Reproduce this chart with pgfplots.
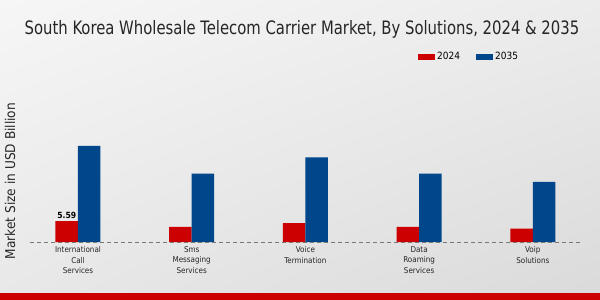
\documentclass[border=0pt]{standalone}
\usepackage{pgfplots}
\pgfplotsset{compat=1.18}
\usetikzlibrary{shadings}
\usepackage{fontspec}
\setmainfont{DejaVu Sans Condensed}
\definecolor{cred}{RGB}{204,0,0}
\definecolor{cblue}{RGB}{0,70,139}
\definecolor{base}{RGB}{120,120,120}
\definecolor{bgul}{RGB}{246,246,246}
\definecolor{bgur}{RGB}{236,236,236}
\definecolor{bgll}{RGB}{232,232,232}
\definecolor{bglr}{RGB}{218,218,218}
\begin{document}
\begin{tikzpicture}
\useasboundingbox (0,0) rectangle (600pt,300pt);
\shade[upper left=bgul, upper right=bgur, lower left=bgll, lower right=bglr]
  (0,0) rectangle (600pt,300pt);
\fill[cred] (0,0) rectangle (600pt,7pt);
\node[font=\fontsize{16.5}{20}\selectfont, text=black!85] at (302pt,271pt) {\scalebox{1}[1.12]{South Korea Wholesale Telecom Carrier Market, By Solutions, 2024 \& 2035}};
\node[rotate=90, font=\fontsize{13.5}{16}\selectfont, text=black!85] at (10pt,119pt) {Market Size in USD Billion};
\begin{axis}[
  at={(30pt,58pt)}, anchor=south west,
  scale only axis, width=550pt, height=142pt,
  xmin=-0.422, xmax=4.415, ymin=0, ymax=37.8,
  axis line style={draw=none}, ytick=\empty,
  xtick={0,1,2,3,4}, major tick length=0pt,
  xticklabels={International\\Call\\Services, Sms\\Messaging\\Services, Voice\\Termination, Data\\Roaming\\Services, Voip\\Solutions},
  xticklabel style={align=center, font=\fontsize{8}{10.5}\selectfont, text=black!85, yshift=-1pt},
  ybar, bar width=22.5pt,
  clip=false,
  legend style={at={(0.7,1.303)}, anchor=west, draw=none, fill=none, legend columns=2,
    font=\fontsize{10}{12}\selectfont, /tikz/every even column/.append style={column sep=14pt}},
  legend image code/.code={\fill[#1] (0pt,-3pt) rectangle (17pt,3pt);},
]
\addplot[fill=cred, draw=none, bar shift=-11.25pt, nodes near coords, point meta=explicit symbolic,
  every node near coord/.append style={font=\bfseries\fontsize{8.5}{10}\selectfont, text=black, yshift=-1pt}]
  coordinates {(0,5.59)[5.59] (1,4.0)[] (2,5.0)[] (3,4.0)[] (4,3.55)[]};
\addplot[fill=cblue, draw=none, bar shift=11.25pt] coordinates {(0,25.6) (1,18.2) (2,22.5) (3,18.2) (4,16.0)};
\legend{2024,2035}
\draw[base, dashed, dash pattern=on 4pt off 3pt, thick] (axis cs:-0.422,0) -- (axis cs:4.415,0);
\end{axis}
\end{tikzpicture}
\end{document}
